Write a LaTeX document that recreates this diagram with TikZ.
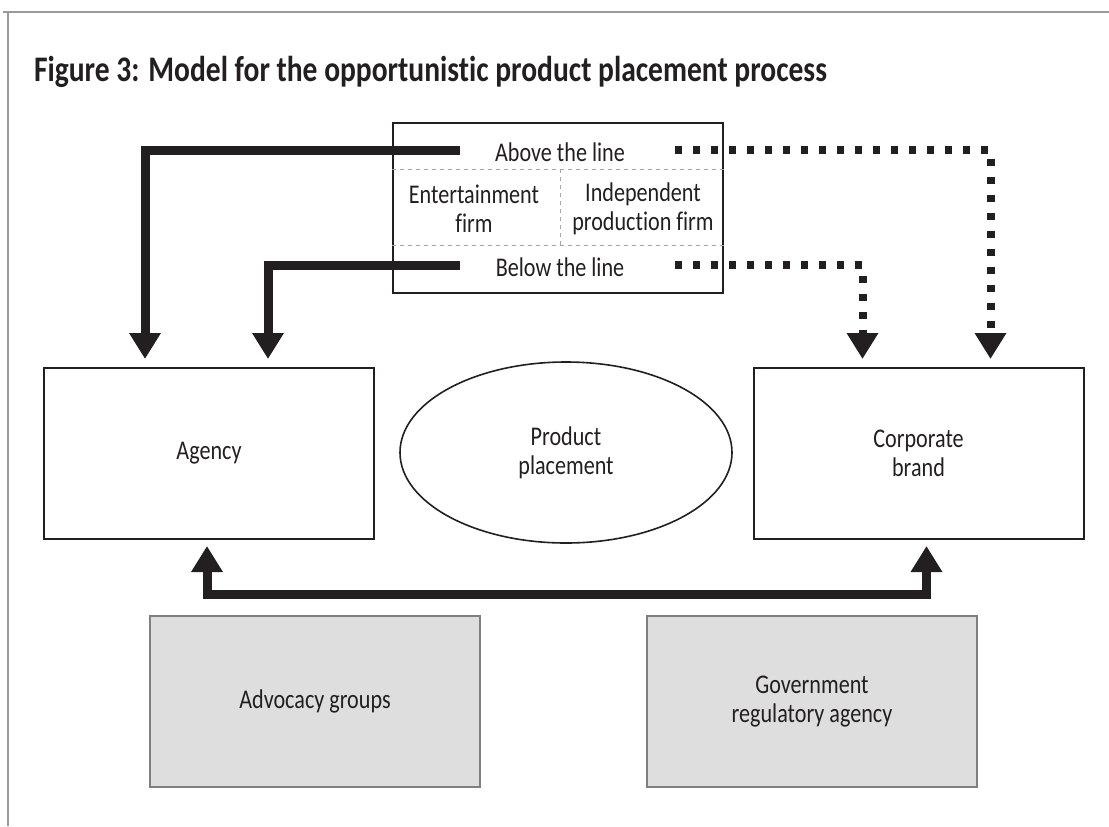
\documentclass[tikz,border=0pt]{standalone}
\usepackage{fontspec}
\usetikzlibrary{arrows.meta,shapes.geometric}
\newfontfamily\figfont{Carlito}[FakeStretch=0.82, Ligatures=NoCommon]
\definecolor{inkc}{HTML}{231F20}
\definecolor{framec}{HTML}{9A9A9A}
\definecolor{shadec}{HTML}{DEDEDE}
\definecolor{shadeline}{HTML}{7F7F7F}
\tikzset{
  box/.style={draw=inkc, line width=1pt, minimum width=165pt, minimum height=85.5pt,
    align=center, text=inkc, font=\figfont\fontsize{13.5}{14.5}\selectfont},
  greybox/.style={box, draw=shadeline, fill=shadec},
  txt/.style={align=center, text=inkc, inner sep=0pt, font=\figfont\fontsize{13.5}{14.5}\selectfont},
  divider/.style={draw=gray!70, line width=0.5pt, dash pattern=on 2pt off 2pt},
  boldflow/.style={draw=inkc, line width=4.5pt, -{Triangle[width=15pt,length=13pt]}},
  dotflow/.style={draw=inkc, line width=4pt, dash pattern=on 3.5pt off 5.5pt,
    -{Triangle[width=15pt,length=13pt]}}
}
\begin{document}
\begin{tikzpicture}[x=0.5pt, y=-0.5pt]
  \useasboundingbox (0,0) rectangle (1109,826);
  \draw[framec, line width=1.2pt] (3,12) -- (1109,12);
  \draw[framec, line width=1.2pt] (8,12) -- (8,826);
  \node[anchor=west, text=inkc, font=\figfont\bfseries\fontsize{18}{20}\selectfont] (title)
    at (27,72) {Figure 3: Model for the opportunistic product placement process};

  \node[box, minimum height=85pt] (src) at (558,208) {};
  \draw[divider] (src.west |- 0,169) -- (src.east |- 0,169);
  \draw[divider] (src.west |- 0,245) -- (src.east |- 0,245);
  \draw[divider] (560,169) -- (560,245);
  \node[txt] (above) at (560,152) {Above the line};
  \node[txt] (ent) at (474,209) {Entertainment\\firm};
  \node[txt] (indep) at (643,209) {Independent\\production firm};
  \node[txt] (below) at (560,267) {Below the line};
  \coordinate (aboveL) at (460,150);
  \coordinate (belowL) at (460,265);
  \coordinate (aboveR) at (675,150);
  \coordinate (belowR) at (675,265);

  \node[box] (agency) at (209,453.5) {Agency};
  \node[txt, draw=inkc, line width=0.8pt, ellipse, minimum width=166pt, minimum height=90.5pt]
    (pp) at (566,452.5) {Product\\placement};
  \node[box] (corp) at (918.5,453.5) {Corporate\\brand};
  \node[greybox] (adv) at (315,701.5) {Advocacy groups};
  \node[greybox] (gov) at (812,701.5) {Government\\regulatory agency};
  \coordinate (bus) at (565,594);

  \begin{scope}[line join=miter]
    \draw[boldflow] (aboveL) -| ([xshift=-32pt,yshift=4pt]agency.north);
    \draw[boldflow] (belowL) -| ([xshift=29.5pt,yshift=4pt]agency.north);
    \draw[dotflow] (aboveR) -| ([xshift=36pt,yshift=4pt]corp.north);
    \draw[dotflow] (belowR) -| ([xshift=-28pt,yshift=4pt]corp.north);
    \draw[boldflow, {Triangle[width=15pt,length=13pt]}-{Triangle[width=15pt,length=13pt]}]
      ([xshift=-1pt,yshift=-3pt]agency.south) |- (bus) -| ([xshift=4pt,yshift=-3pt]corp.south);
  \end{scope}
\end{tikzpicture}
\end{document}
